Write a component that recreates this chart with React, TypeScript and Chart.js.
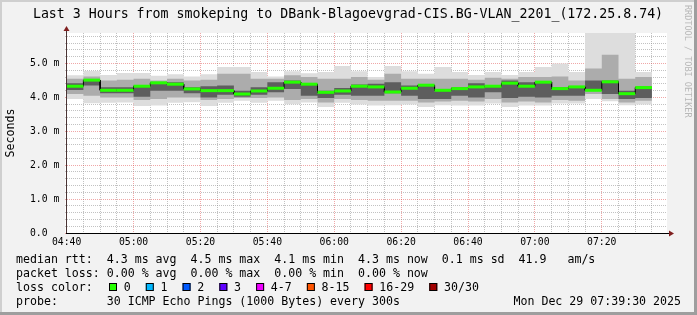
import React, { useEffect, useRef } from 'react';
import { Chart, registerables } from 'chart.js';

Chart.register(...registerables);

// ---------- data ----------
const binStarts = [
  '04:40', '04:45', '04:50', '04:55', '05:00', '05:05', '05:10', '05:15', '05:20', '05:25', '05:30', '05:35',
  '05:40', '05:45', '05:50', '05:55', '06:00', '06:05', '06:10', '06:15', '06:20', '06:25', '06:30', '06:35',
  '06:40', '06:45', '06:50', '06:55', '07:00', '07:05', '07:10', '07:15', '07:20', '07:25', '07:30',
];
const binMinutes = 5;

const medianRtt = [
  4.33, 4.51, 4.21, 4.21, 4.33, 4.43, 4.39, 4.25, 4.20, 4.20, 4.10, 4.19, 4.27, 4.45, 4.39, 4.15, 4.19, 4.33,
  4.31, 4.16, 4.27, 4.36, 4.21, 4.26, 4.31, 4.33, 4.42, 4.33, 4.45, 4.26, 4.31, 4.21, 4.46, 4.11, 4.29,
];
const smokeMax = [
  4.65, 4.78, 4.66, 4.72, 4.72, 4.64, 4.68, 4.62, 4.68, 4.90, 4.90, 4.75, 4.62, 4.77, 4.71, 4.75, 4.93, 4.77,
  4.60, 4.93, 4.77, 4.70, 4.90, 4.75, 4.66, 4.75, 4.66, 4.75, 4.90, 5.00, 4.75, 5.95, 5.95, 5.95, 4.75,
];
const smokeMin = [
  3.95, 3.83, 3.84, 3.85, 3.75, 3.76, 3.84, 3.86, 3.75, 3.84, 3.90, 3.84, 3.90, 3.80, 3.85, 3.72, 3.84, 3.79,
  3.76, 3.77, 3.79, 3.72, 3.77, 3.76, 3.76, 3.82, 3.72, 3.76, 3.76, 3.82, 3.82, 3.95, 3.89, 3.77, 3.79,
];
const smokeMidHi = [
  4.55, 4.62, 4.50, 4.52, 4.55, 4.50, 4.55, 4.50, 4.52, 4.70, 4.70, 4.55, 4.55, 4.65, 4.60, 4.55, 4.55, 4.60,
  4.52, 4.70, 4.55, 4.55, 4.55, 4.55, 4.52, 4.58, 4.55, 4.60, 4.60, 4.62, 4.50, 4.85, 5.26, 4.55, 4.60,
];
const smokeMidLo = [
  4.10, 4.05, 4.00, 4.00, 3.92, 3.95, 4.00, 4.00, 3.92, 3.95, 3.98, 3.98, 4.00, 3.92, 3.95, 3.85, 3.95, 3.92,
  3.90, 3.90, 3.90, 3.85, 3.88, 3.90, 3.88, 3.95, 3.85, 3.88, 3.85, 3.92, 3.90, 4.10, 3.95, 3.85, 3.90,
];
const smokeCoreHi = [
  4.42, 4.52, 4.30, 4.30, 4.35, 4.45, 4.45, 4.30, 4.33, 4.35, 4.20, 4.30, 4.45, 4.50, 4.40, 4.20, 4.28, 4.38,
  4.40, 4.45, 4.35, 4.38, 4.20, 4.30, 4.42, 4.36, 4.50, 4.45, 4.47, 4.30, 4.33, 4.50, 4.50, 4.20, 4.32,
];
const smokeCoreLo = [
  4.22, 4.35, 4.12, 4.12, 4.02, 4.20, 4.20, 4.12, 4.00, 4.08, 4.02, 4.08, 4.15, 4.25, 4.05, 3.98, 4.08, 4.05,
  4.05, 4.12, 4.05, 3.95, 3.95, 4.05, 4.00, 4.15, 3.98, 4.02, 4.00, 4.05, 4.05, 4.20, 4.10, 3.95, 3.98,
];

const axisStart = '04:39:30';
const axisEnd = '07:39:30';
const timeLabels = ['04:40', '05:00', '05:20', '05:40', '06:00', '06:20', '06:40', '07:00', '07:20'];
const yLabelValues = [0, 1, 2, 3, 4, 5];
const yLabels = ['0.0', '1.0 m', '2.0 m', '3.0 m', '4.0 m', '5.0 m'];
const yMax = 5.9;

const lossLabels = ['0', '1', '2', '3', '4-7', '8-15', '16-29', '30/30'];
const lossColors = ['#26ff00', '#00b8ff', '#0059ff', '#5e00ff', '#ee00ff', '#ff5500', '#ff0000', '#a10000'];

const titleText = 'Last 3 Hours from smokeping to DBank-Blagoevgrad-CIS.BG-VLAN_2201_(172.25.8.74)';
const legendLine1 = 'median rtt:  4.3 ms avg  4.5 ms max  4.1 ms min  4.3 ms now  0.1 ms sd  41.9   am/s';
const legendLine2 = 'packet loss: 0.00 % avg  0.00 % max  0.00 % min  0.00 % now';
const legendLine3 = 'loss color:';
const legendLine4 = 'probe:       30 ICMP Echo Pings (1000 Bytes) every 300s';
const dateText = 'Mon Dec 29 07:39:30 2025';
const yTitle = 'Seconds';
const watermark = 'RRDTOOL / TOBI OETIKER';

// ---------- helpers ----------
const MONO = '"DejaVu Sans Mono", monospace';
const toMin = (s: string) => {
  const p = s.split(':').map(Number);
  return p[0] * 60 + p[1] + (p[2] || 0) / 60;
};
const origin = toMin(binStarts[0]);
const rel = (s: string) => toMin(s) - origin;
const xMin = rel(axisStart);
const xMax = rel(axisEnd);

const stepData = (vals: number[]) =>
  vals.flatMap((v, i) => {
    const s = rel(binStarts[i]);
    return [{ x: s, y: v }, { x: s + binMinutes, y: v }];
  });

const xGrid: number[] = [];
for (let m = 0; m <= xMax; m += binMinutes) xGrid.push(m);
const yGrid: number[] = [];
for (let k = 0; k * 0.2 <= yMax; k++) yGrid.push(Math.round(k * 2) / 10);

const timeMap = new Map(timeLabels.map((t) => [rel(t), t]));
const isInt = (v: number) => Math.abs(v - Math.round(v)) < 1e-6;

const GRID = 'rgba(143,143,143,0.55)';
const MGRID = 'rgba(222,60,60,0.45)';

const rrdPlugin = {
  id: 'rrdDecor',
  beforeDraw(chart: any) {
    const { ctx, width, height, chartArea: a } = chart;
    ctx.save();
    ctx.fillStyle = '#f2f2f2';
    ctx.fillRect(0, 0, width, height);
    ctx.fillStyle = '#cfcfcf';
    ctx.fillRect(0, 0, width, 2);
    ctx.fillRect(0, 0, 2, height);
    ctx.fillStyle = '#9e9e9e';
    ctx.fillRect(0, height - 3, width, 3);
    ctx.fillRect(width - 3, 0, 3, height);
    ctx.fillStyle = '#ffffff';
    ctx.fillRect(a.left, a.top, a.right - a.left, a.bottom - a.top);
    ctx.restore();
  },
  afterDraw(chart: any) {
    const { ctx, chartArea: a, scales } = chart;
    const xs = scales.x;
    const ys = scales.y;
    ctx.save();
    // axes
    const ax = Math.floor(xs.getPixelForValue(0));
    const ay = Math.round(ys.getPixelForValue(0));
    ctx.fillStyle = '#4a3434';
    ctx.fillRect(ax, a.top - 2, 1, ay - a.top + 3);
    ctx.fillStyle = '#000000';
    ctx.fillRect(ax, ay, a.right + 2 - ax, 1);
    ctx.fillStyle = '#802020';
    ctx.beginPath();
    ctx.moveTo(ax + 0.5, a.top - 7);
    ctx.lineTo(ax + 3.5, a.top - 2);
    ctx.lineTo(ax - 2.5, a.top - 2);
    ctx.closePath();
    ctx.fill();
    ctx.beginPath();
    ctx.moveTo(a.right + 7, ay + 0.5);
    ctx.lineTo(a.right + 2, ay + 3.5);
    ctx.lineTo(a.right + 2, ay - 2.5);
    ctx.closePath();
    ctx.fill();

    // title
    ctx.fillStyle = '#000';
    ctx.font = `13.25px ${MONO}`;
    ctx.textAlign = 'center';
    ctx.textBaseline = 'alphabetic';
    ctx.fillText(titleText, 348, 18);

    // y title
    ctx.save();
    ctx.font = `11.6px ${MONO}`;
    ctx.translate(11, (a.top + a.bottom) / 2);
    ctx.rotate(-Math.PI / 2);
    ctx.textBaseline = 'middle';
    ctx.fillText(yTitle, 0, 0);
    ctx.restore();

    // watermark
    ctx.save();
    ctx.font = `8.5px ${MONO}`;
    ctx.fillStyle = '#b8b8b8';
    ctx.translate(687, 5);
    ctx.rotate(Math.PI / 2);
    ctx.textAlign = 'left';
    ctx.textBaseline = 'middle';
    ctx.fillText(watermark, 0, 0);
    ctx.restore();

    // legend
    ctx.font = `11.6px ${MONO}`;
    ctx.textAlign = 'left';
    ctx.textBaseline = 'alphabetic';
    ctx.fillStyle = '#000';
    const lx = 16;
    ctx.fillText(legendLine1, lx, 263);
    ctx.fillText(legendLine2, lx, 277);
    ctx.fillText(legendLine3, lx, 291);
    ctx.fillText(legendLine4, lx, 305);
    ctx.textAlign = 'right';
    ctx.fillText(dateText, 681, 305);
    ctx.textAlign = 'left';

    let sx = 109;
    lossLabels.forEach((lab, i) => {
      ctx.fillStyle = lossColors[i];
      ctx.fillRect(sx, 283, 8, 8);
      ctx.strokeStyle = '#000';
      ctx.lineWidth = 1;
      ctx.strokeRect(sx + 0.5, 283.5, 7, 7);
      ctx.fillStyle = '#000';
      const tx = sx + 14.7;
      ctx.fillText(lab, tx, 291);
      sx = tx + ctx.measureText(lab).width + 15.1;
    });
    ctx.restore();
  },
};

const hidden = 'rgba(0,0,0,0)';
const layer = (hi: number[], lo: number[], color: string, order: number) => [
  { type: 'line', data: stepData(hi), borderColor: hidden, borderWidth: 0, pointRadius: 0, fill: false, order, tension: 0 },
  { type: 'line', data: stepData(lo), borderColor: hidden, borderWidth: 0, pointRadius: 0, fill: '-1', backgroundColor: color, order, tension: 0 },
];

export default function App() {
  const ref = useRef<HTMLCanvasElement | null>(null);
  useEffect(() => {
    document.body.style.margin = '0';
    const canvas = ref.current!;
    const datasets: any[] = [
      ...layer(smokeMax, smokeMin, '#dddddd', 10),
      ...layer(smokeMidHi, smokeMidLo, '#acacac', 9),
      ...layer(smokeCoreHi, smokeCoreLo, '#5e5e5e', 8),
      { type: 'line', data: stepData(medianRtt), borderColor: '#000', borderWidth: 1, pointRadius: 0, fill: false, order: 2, tension: 0 },
      {
        type: 'line', data: stepData(medianRtt), borderColor: '#26ff00', borderWidth: 3, pointRadius: 0, fill: false, order: 1, tension: 0,
        borderCapStyle: 'butt',
        segment: { borderColor: (c: any) => (c.p0.parsed.x === c.p1.parsed.x ? hidden : '#26ff00') },
      },
    ];
    const chart = new Chart(canvas, {
      type: 'line',
      data: { datasets },
      options: {
        animation: false,
        responsive: false,
        devicePixelRatio: 1,
        parsing: true,
        layout: { padding: { top: 33, left: 30, right: 30, bottom: 62 } },
        plugins: { legend: { display: false }, title: { display: false }, tooltip: { enabled: false } },
        events: [],
        scales: {
          x: {
            type: 'linear',
            min: xMin,
            max: xMax,
            z: 1,
            afterBuildTicks: (s: any) => { s.ticks = xGrid.map((v) => ({ value: v })); },
            afterFit: (s: any) => { s.height = 20; },
            ticks: {
              autoSkip: false, maxRotation: 0, minRotation: 0, padding: 4, color: '#000',
              font: { family: MONO, size: 9.75 },
              callback: (v: any) => timeMap.get(Number(v)) ?? '',
            },
            grid: {
              drawTicks: false,
              lineWidth: 1,
              color: (c: any) => (c.tick && Math.round(c.tick.value) % 20 === 0 ? MGRID : GRID),
            },
            border: { display: false, dash: [1, 1] },
          },
          y: {
            type: 'linear',
            min: 0,
            max: yMax,
            z: 1,
            afterBuildTicks: (s: any) => { s.ticks = yGrid.map((v) => ({ value: v })); },
            afterFit: (s: any) => { s.width = 35; },
            ticks: {
              autoSkip: false, crossAlign: 'far', color: '#000',
              font: { family: MONO, size: 9.75 },
              callback: (v: any) => {
                const idx = yLabelValues.findIndex((y) => Math.abs(y - Number(v)) < 1e-6);
                return idx >= 0 ? yLabels[idx] : '';
              },
            },
            grid: {
              drawTicks: false,
              lineWidth: 1,
              color: (c: any) => (c.tick && isInt(c.tick.value) ? MGRID : GRID),
            },
            border: { display: false, dash: [1, 1] },
          },
        },
      } as any,
      plugins: [rrdPlugin],
    });
    return () => chart.destroy();
  }, []);
  return <canvas ref={ref} width={697} height={315} style={{ display: 'block', width: 697, height: 315 }} />;
}
